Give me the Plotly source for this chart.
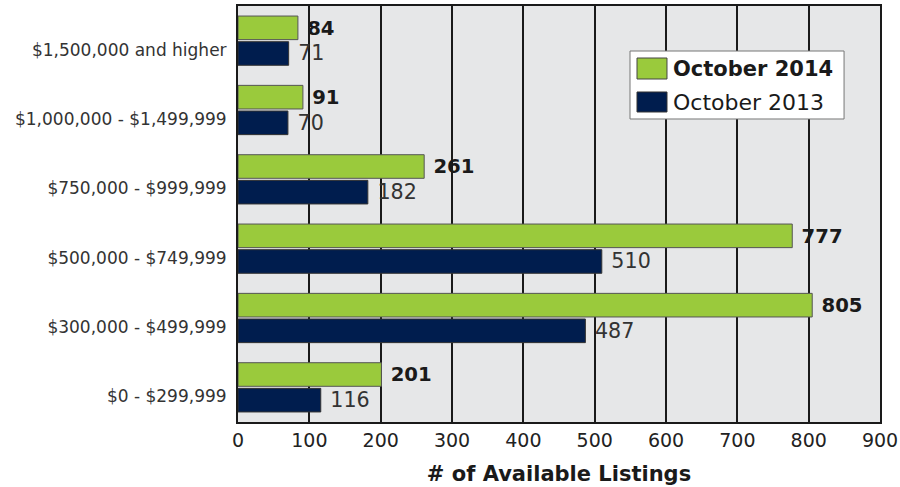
import plotly.graph_objects as go

categories = ["$0 - $299,999", "$300,000 - $499,999", "$500,000 - $749,999",
              "$750,000 - $999,999", "$1,000,000 - $1,499,999", "$1,500,000 and higher"]
oct_2014 = [201, 805, 777, 261, 91, 84]
oct_2013 = [116, 487, 510, 182, 70, 71]
x_ticks = [0, 100, 200, 300, 400, 500, 600, 700, 800, 900]
series_names = ["October 2014", "October 2013"]
series_colors = ["#9ACA3C", "#001D4E"]

FONT = "DejaVu Sans"
NB = "\u00a0"

fig = go.Figure()
fig.add_trace(go.Bar(
    y=categories, x=oct_2013, orientation="h", name=series_names[1],
    marker=dict(color=series_colors[1], line=dict(color="#333333", width=1)),
    text=[NB + str(v) for v in oct_2013], textposition="outside",
    textfont=dict(family=FONT, size=21, color="#333333"), cliponaxis=False,
    showlegend=False, hoverinfo="skip",
))
fig.add_trace(go.Bar(
    y=categories, x=oct_2014, orientation="h", name=series_names[0],
    marker=dict(color=series_colors[0], line=dict(color="#555555", width=1)),
    text=[NB + "<b>%d</b>" % v for v in oct_2014], textposition="outside",
    textfont=dict(family=FONT, size=20, color="#1a1a1a"), cliponaxis=False,
    showlegend=False, hoverinfo="skip",
))

# custom legend (box, swatches, labels) in paper coordinates
shapes = [
    dict(type="rect", xref="paper", yref="paper", x0=0.6106, x1=0.944, y0=0.7284, y1=0.8918,
         fillcolor="white", line=dict(color="#777777", width=1), layer="above"),
    dict(type="rect", xref="paper", yref="paper", x0=0.6215, x1=0.6682, y0=0.8245, y1=0.875,
         fillcolor=series_colors[0], line=dict(color="#444444", width=1), layer="above"),
    dict(type="rect", xref="paper", yref="paper", x0=0.6215, x1=0.6682, y0=0.7452, y1=0.7933,
         fillcolor=series_colors[1], line=dict(color="#333333", width=1), layer="above"),
]
annotations = [
    dict(xref="paper", yref="paper", x=0.675, y=0.8486, xanchor="left", yanchor="middle",
         text="<b>%s</b>" % series_names[0], showarrow=False,
         font=dict(family=FONT, size=21, color="#1a1a1a")),
    dict(xref="paper", yref="paper", x=0.675, y=0.7692, xanchor="left", yanchor="middle",
         text=series_names[1], showarrow=False,
         font=dict(family=FONT, size=22, color="#1a1a1a")),
]

fig.update_layout(
    width=900, height=487,
    margin=dict(l=238, r=20, t=6, b=65),
    paper_bgcolor="white", plot_bgcolor="#E6E7E8",
    barmode="group", bargap=0.26, bargroupgap=0.08,
    font=dict(family=FONT, color="#333333"),
    showlegend=False,
    shapes=shapes, annotations=annotations,
    xaxis=dict(
        range=[0, 900], tickvals=x_ticks, ticktext=[str(t) for t in x_ticks],
        showgrid=True, gridcolor="#1a1a1a", gridwidth=2,
        showline=True, linecolor="#1a1a1a", linewidth=2, mirror=True,
        tickfont=dict(family=FONT, size=19, color="#222222"),
        title=dict(text="<b># of Available Listings</b>",
                   font=dict(family=FONT, size=21, color="#1a1a1a"), standoff=17),
        zeroline=False, ticks="", automargin=False, fixedrange=True,
    ),
    yaxis=dict(
        showgrid=False, showline=True, linecolor="#1a1a1a", linewidth=2, mirror=True,
        tickfont=dict(family=FONT, size=17, color="#333333"), ticks="",
        ticklabelstandoff=6, ticklabelshift=9, automargin=False, fixedrange=True,
    ),
)

fig.write_html("out.html", config={"displayModeBar": False},
               post_script="document.body.style.margin='0';")
